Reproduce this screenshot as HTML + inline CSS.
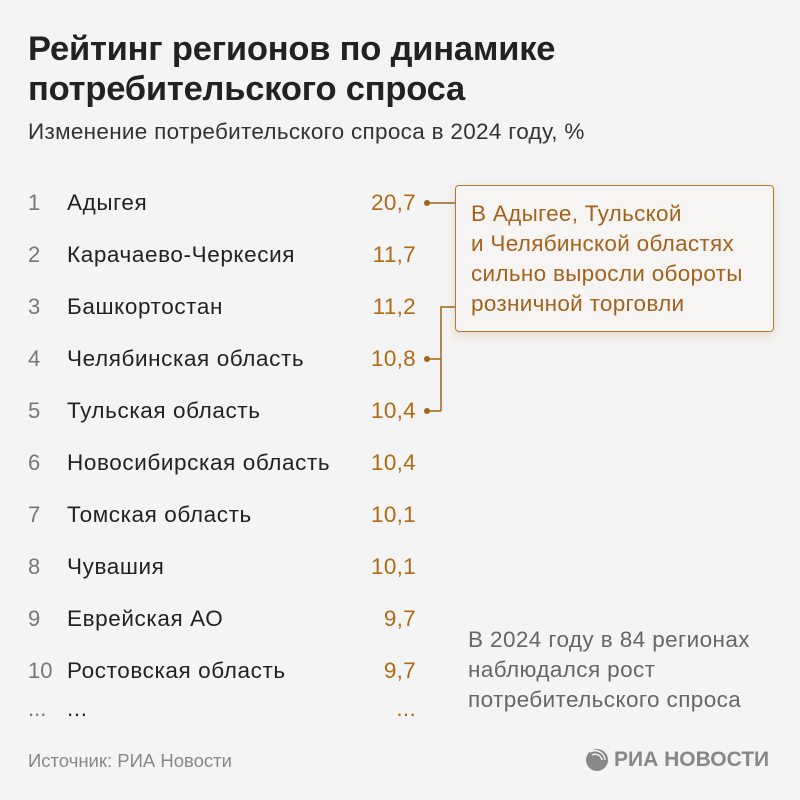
<!DOCTYPE html>
<html><head><meta charset="utf-8"><style>
body{margin:0;width:800px;height:800px;background:#f4f4f4;font-family:"Liberation Sans",sans-serif;position:relative;overflow:hidden}
.a{position:absolute;white-space:nowrap}
h1{position:absolute;left:28px;top:29px;margin:0;font-size:34.5px;line-height:40px;font-weight:bold;color:#222;letter-spacing:-0.2px}
.sub{left:28px;top:119px;font-size:22.5px;color:#333;letter-spacing:0.3px}
.n{left:28px;font-size:22px;color:#777;width:30px}
.r{left:67px;font-size:22.5px;color:#222;letter-spacing:0.6px}
.v{right:384px;font-size:22.5px;color:#b06a14;text-align:right;letter-spacing:0.3px}
.box{position:absolute;left:455px;top:185px;width:319px;height:147px;border:1.5px solid #b8772e;border-radius:4px;background:#f6f5f3;box-shadow:0 4px 10px rgba(180,110,40,.2);box-sizing:border-box}
.box div{position:absolute;left:15px;top:13px;font-size:22.5px;line-height:30px;color:#a5621a;letter-spacing:0.3px}
.note{left:468px;top:625px;font-size:22.5px;line-height:30px;color:#666;letter-spacing:0.4px}
.src{left:28px;top:750px;font-size:18.5px;color:#888}
.logo{left:614px;top:748px;font-size:21px;font-weight:bold;color:#888;letter-spacing:0px}
</style></head><body>
<h1>Рейтинг регионов по динамике<br>потребительского спроса</h1>
<div class="a sub">Изменение потребительского спроса в 2024 году, %</div>
<div class="a n" style="top:190px">1</div><div class="a r" style="top:190px">Адыгея</div><div class="a v" style="top:190px">20,7</div>
<div class="a n" style="top:242px">2</div><div class="a r" style="top:242px">Карачаево-Черкесия</div><div class="a v" style="top:242px">11,7</div>
<div class="a n" style="top:294px">3</div><div class="a r" style="top:294px">Башкортостан</div><div class="a v" style="top:294px">11,2</div>
<div class="a n" style="top:346px">4</div><div class="a r" style="top:346px">Челябинская область</div><div class="a v" style="top:346px">10,8</div>
<div class="a n" style="top:398px">5</div><div class="a r" style="top:398px">Тульская область</div><div class="a v" style="top:398px">10,4</div>
<div class="a n" style="top:450px">6</div><div class="a r" style="top:450px">Новосибирская область</div><div class="a v" style="top:450px">10,4</div>
<div class="a n" style="top:502px">7</div><div class="a r" style="top:502px">Томская область</div><div class="a v" style="top:502px">10,1</div>
<div class="a n" style="top:554px">8</div><div class="a r" style="top:554px">Чувашия</div><div class="a v" style="top:554px">10,1</div>
<div class="a n" style="top:606px">9</div><div class="a r" style="top:606px">Еврейская АО</div><div class="a v" style="top:606px">9,7</div>
<div class="a n" style="top:658px">10</div><div class="a r" style="top:658px">Ростовская область</div><div class="a v" style="top:658px">9,7</div>
<div class="a n" style="top:696px">...</div><div class="a r" style="top:696px">...</div><div class="a v" style="top:696px">...</div>
<svg class="a" style="left:0;top:0" width="800" height="800"><g stroke="#a5621a" stroke-width="1.5" fill="none">
<path d="M427 203H456"/><path d="M427 359H441M427 411H441M441 411V307H456"/></g>
<g fill="#a5621a"><circle cx="427" cy="203" r="3"/><circle cx="427" cy="359" r="3"/><circle cx="427" cy="411" r="3"/></g>
<g fill="#888"><circle cx="597" cy="760" r="11"/></g><path d="M590 752a10 10 0 0 1 15 8" stroke="#f4f4f4" stroke-width="1.5" fill="none"/><path d="M592 755a7 7 0 0 1 10 5" stroke="#f4f4f4" stroke-width="1.5" fill="none"/></svg>
<div class="box"><div>В Адыгее, Тульской<br>и Челябинской областях<br>сильно выросли обороты<br>розничной торговли</div></div>
<div class="a note">В 2024 году в 84 регионах<br>наблюдался рост<br>потребительского спроса</div>
<div class="a src">Источник: РИА Новости</div>
<div class="a logo">РИА НОВОСТИ</div>
</body></html>
